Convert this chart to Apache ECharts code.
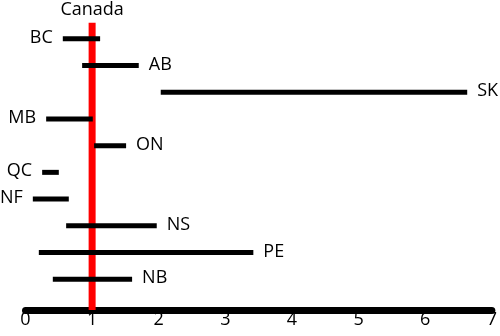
<!DOCTYPE html>
<html>
<head>
<meta charset="utf-8">
<script src="https://cdn.jsdelivr.net/npm/echarts@6/dist/echarts.min.js"></script>
<style>html,body{margin:0;padding:0;background:#fff;}#c{width:500px;height:336px;}</style>
</head>
<body>
<div id="c"></div>
<script>
// Data
const provinces = ['BC', 'AB', 'SK', 'MB', 'ON', 'QC', 'NF', 'NS', 'PE', 'NB'];
const lowValues  = [0.56, 0.85, 2.03, 0.31, 1.03, 0.25, 0.11, 0.61, 0.20, 0.41];
const highValues = [1.12, 1.70, 6.63, 1.01, 1.51, 0.50, 0.65, 1.97, 3.42, 1.60];
const labelSides = ['left', 'right', 'right', 'left', 'right', 'left', 'left', 'right', 'right', 'right'];
const canadaValue = 1;
const canadaLabel = 'Canada';
const xMin = 0, xMax = 7, xInterval = 1;

const FONT = '"Open Sans", "DejaVu Sans", sans-serif';
const FS = 18;
const Y_MAX = 11.15;
const RED_TOP = 0.4;

const rangeData = provinces.map((p, i) => [lowValues[i], highValues[i], i + 1, p, labelSides[i]]);

const chart = echarts.init(document.getElementById('c'), null, { renderer: 'canvas' });
chart.setOption({
  animation: false,
  backgroundColor: '#fff',
  grid: { left: 25.5, right: 8, top: 12, bottom: 26, containLabel: false },
  xAxis: {
    type: 'value', min: xMin, max: xMax, interval: xInterval,
    axisLine: { show: true, onZero: false, lineStyle: { color: '#000', width: 7 } },
    axisTick: { show: false },
    splitLine: { show: false },
    axisLabel: { color: '#000', fontSize: FS, fontFamily: FONT, margin: 1 }
  },
  yAxis: {
    type: 'value', min: 0, max: Y_MAX, inverse: true, show: false,
    splitLine: { show: false }
  },
  series: [
    {
      type: 'custom',
      z: 1,
      data: [[canadaValue]],
      renderItem: function (params, api) {
        const v = api.value(0);
        const top = api.coord([v, RED_TOP]);
        const bot = api.coord([v, Y_MAX]);
        return {
          type: 'group',
          children: [
            { type: 'line', shape: { x1: top[0], y1: top[1], x2: bot[0], y2: bot[1] },
              style: { stroke: '#ff0000', lineWidth: 7 } },
            { type: 'text', x: top[0], y: top[1] - 12.5,
              style: { text: canadaLabel, fill: '#000', fontSize: FS, fontFamily: FONT,
                       align: 'center', verticalAlign: 'middle' } }
          ]
        };
      }
    },
    {
      type: 'custom',
      z: 2,
      data: rangeData,
      renderItem: function (params, api) {
        const lo = api.value(0), hi = api.value(1), row = api.value(2);
        const d = rangeData[params.dataIndex];
        const p1 = api.coord([lo, row]);
        const p2 = api.coord([hi, row]);
        const left = d[4] === 'left';
        return {
          type: 'group',
          children: [
            { type: 'line', shape: { x1: p1[0], y1: p1[1], x2: p2[0], y2: p2[1] },
              style: { stroke: '#000', lineWidth: 5 } },
            { type: 'text', x: left ? p1[0] - 10 : p2[0] + 10, y: p1[1] - 1,
              style: { text: d[3], fill: '#000', fontSize: FS, fontFamily: FONT,
                       align: left ? 'right' : 'left', verticalAlign: 'middle' } }
          ]
        };
      }
    }
  ]
});
</script>
</body>
</html>
